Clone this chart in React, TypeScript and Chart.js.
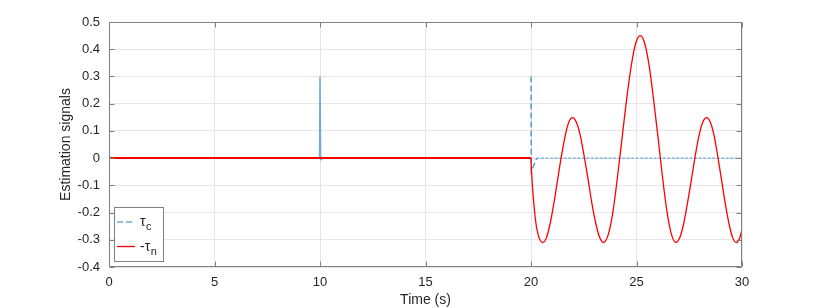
import React, { useEffect, useRef } from "react";
import { Chart, registerables } from "chart.js";

Chart.register(...registerables);

// ---- data ----
const tauCTime = [0, 9.98, 10, 10.03, 10.12, 20, 20.002, 20.01, 20.27, 30];
const tauCValue = [0, 0, 0.3, -0.005, 0, 0, 0.3, -0.05, 0, 0];

const negTauNTime = [
  0, 20, 20.02, 20.2, 20.35, 20.55, 20.73, 20.9, 21.08, 21.26, 21.44, 21.62, 21.79, 21.97,
  22.15, 22.34, 22.52, 22.71, 22.89, 23.08, 23.26, 23.44, 23.66, 23.88, 24.09, 24.31, 24.53,
  24.75, 24.96, 25.18, 25.39, 25.6, 25.81, 26.03, 26.24, 26.45, 26.66, 26.87, 27.05, 27.23,
  27.41, 27.6, 27.78, 27.96, 28.14, 28.32, 28.5, 28.68, 28.85, 29.03, 29.21, 29.39, 29.56,
  29.74, 29.88, 30,
];
const negTauNValue = [
  0, 0, -0.04, -0.22, -0.285, -0.31, -0.293, -0.243, -0.168, -0.08, 0.007, 0.082, 0.132, 0.149,
  0.132, 0.082, 0.007, -0.08, -0.168, -0.243, -0.293, -0.31, -0.281, -0.199, -0.075, 0.07, 0.215,
  0.339, 0.421, 0.45, 0.421, 0.339, 0.215, 0.07, -0.075, -0.199, -0.281, -0.31, -0.293, -0.243,
  -0.168, -0.08, 0.007, 0.082, 0.132, 0.149, 0.132, 0.082, 0.007, -0.08, -0.168, -0.243, -0.293,
  -0.31, -0.295, -0.262,
];

const xTicks = [0, 5, 10, 15, 20, 25, 30];
const yTicks = [-0.4, -0.3, -0.2, -0.1, 0, 0.1, 0.2, 0.3, 0.4, 0.5];
const xTitle = "Time (s)";
const yTitle = "Estimation signals";

const BLUE = "#2f86c6";
const LIGHT_BLUE = "#6eaadb";
const RED = "#ff0000";
const FONT = "'Liberation Sans', Arial, Helvetica, sans-serif";
const AXIS = "#808080";

const overlayPlugin = {
  id: "overlay",
  afterDraw(chart: any) {
    const { ctx, chartArea: a, scales } = chart;
    const xs = scales.x;
    const ys = scales.y;
    ctx.save();
    ctx.strokeStyle = AXIS;
    ctx.lineWidth = 1;
    const L = Math.round(a.left) + 0.5;
    const R = Math.round(a.right) - 0.5;
    const T = Math.round(a.top) + 0.5;
    const B = Math.round(a.bottom) - 0.5;
    ctx.beginPath();
    ctx.rect(L, T, R - L, B - T);
    ctx.stroke();
    const tl = 5;
    ctx.beginPath();
    for (const v of xTicks) {
      const px = Math.round(xs.getPixelForValue(v)) + 0.5;
      ctx.moveTo(px, B);
      ctx.lineTo(px, B - tl);
      ctx.moveTo(px, T);
      ctx.lineTo(px, T + tl);
    }
    for (const v of yTicks) {
      const py = Math.round(ys.getPixelForValue(v)) + 0.5;
      ctx.moveTo(L, py);
      ctx.lineTo(L + tl, py);
      ctx.moveTo(R, py);
      ctx.lineTo(R - tl, py);
    }
    ctx.stroke();

    ctx.fillStyle = "#262626";
    ctx.font = `14px ${FONT}`;
    ctx.textAlign = "center";
    ctx.textBaseline = "middle";
    ctx.fillText(xTitle, (a.left + a.right) / 2, 300);
    ctx.save();
    ctx.translate(66, (a.top + a.bottom) / 2);
    ctx.rotate(-Math.PI / 2);
    ctx.fillText(yTitle, 0, 0);
    ctx.restore();

    const bx = 114.5, by = 207.5, bw = 49, bh = 54;
    ctx.fillStyle = "#ffffff";
    ctx.fillRect(bx, by, bw, bh);
    ctx.strokeStyle = AXIS;
    ctx.strokeRect(bx, by, bw, bh);
    const entries = [
      { color: LIGHT_BLUE, dash: [6, 3], pre: "", sub: "c", y: 222 },
      { color: RED, dash: [], pre: "-", sub: "n", y: 246.5 },
    ];
    for (const e of entries) {
      ctx.strokeStyle = e.color;
      ctx.lineWidth = 1.3;
      ctx.setLineDash(e.dash);
      ctx.beginPath();
      ctx.moveTo(117, e.y);
      ctx.lineTo(135, e.y);
      ctx.stroke();
      ctx.setLineDash([]);
      ctx.fillStyle = "#262626";
      ctx.textAlign = "left";
      ctx.textBaseline = "alphabetic";
      ctx.font = `14px ${FONT}`;
      let x = 140;
      const base = e.y + 4;
      if (e.pre) {
        ctx.fillText(e.pre, x, base);
        x += ctx.measureText(e.pre).width;
      }
      ctx.fillText("τ", x, base);
      x += ctx.measureText("τ").width + 0.5;
      ctx.font = `11px ${FONT}`;
      ctx.fillText(e.sub, x, base + 4);
    }
    ctx.restore();
  },
};

export default function App() {
  const ref = useRef<HTMLCanvasElement | null>(null);
  useEffect(() => {
    document.body.style.margin = "0";
    const canvas = ref.current;
    if (!canvas) return;
    const chart = new Chart(canvas, {
      type: "line",
      data: {
        datasets: [
          {
            label: "-τn",
            data: negTauNTime.map((t, i) => ({ x: t, y: negTauNValue[i] })),
            borderColor: RED,
            borderWidth: 1.3,
            pointRadius: 0,
            cubicInterpolationMode: "monotone",
            order: 0,
            segment: {
              borderWidth: (c: any) => (c.p1.parsed.x <= 20.001 ? 2 : 1.3),
            },
          },
          {
            label: "τc",
            data: tauCTime.map((t, i) => ({ x: t, y: tauCValue[i] })),
            borderColor: BLUE,
            borderWidth: 1.2,
            borderDash: [6, 3],
            pointRadius: 0,
            tension: 0,
            order: 1,
            segment: {
              borderColor: (c: any) => {
                const x0 = c.p0.parsed.x;
                if (x0 === 20 && c.p1.parsed.y > 0.1) return "rgba(0,0,0,0)";
                if (x0 > 9.9 && x0 < 10.1) return LIGHT_BLUE;
                if (x0 >= 20.2) return LIGHT_BLUE;
                return undefined;
              },
              borderDash: (c: any) => {
                const x0 = c.p0.parsed.x;
                if (x0 > 9.9 && x0 < 10.1) return [];
                if (x0 >= 20.2) return [3, 1.5];
                return [6, 3];
              },
              borderWidth: (c: any) => {
                const x0 = c.p0.parsed.x;
                if (x0 > 9.9 && x0 < 10.1) return 1.5;
                return undefined;
              },
            },
          },
        ],
      },
      options: {
        animation: false,
        responsive: false,
        events: [],
        layout: { padding: { top: 22, right: 80, bottom: 0, left: 0 } },
        plugins: { legend: { display: false }, tooltip: { enabled: false } },
        scales: {
          x: {
            type: "linear",
            min: 0,
            max: 30,
            afterBuildTicks: (s: any) => {
              s.ticks = xTicks.map((v) => ({ value: v }));
            },
            afterFit: (s: any) => {
              s.height = 41;
            },
            grid: { color: "#e6e6e6", drawTicks: false, lineWidth: 1 },
            border: { display: false },
            ticks: {
              padding: 8,
              color: "#262626",
              font: { family: FONT, size: 13 },
              maxRotation: 0,
              callback: (v: any) => String(v),
            },
          },
          y: {
            type: "linear",
            min: -0.4,
            max: 0.5,
            afterBuildTicks: (s: any) => {
              s.ticks = yTicks.map((v) => ({ value: v }));
            },
            afterFit: (s: any) => {
              s.width = 109;
            },
            grid: { color: "#e6e6e6", drawTicks: false, lineWidth: 1 },
            border: { display: false },
            ticks: {
              padding: 9,
              color: "#262626",
              font: { family: FONT, size: 13 },
              callback: (v: any) => String(parseFloat(Number(v).toFixed(2))),
            },
          },
        },
      },
      plugins: [overlayPlugin],
    } as any);
    return () => chart.destroy();
  }, []);
  return (
    <div style={{ width: 822, height: 308, background: "#fff" }}>
      <canvas ref={ref} width={822} height={308} style={{ display: "block" }} />
    </div>
  );
}
